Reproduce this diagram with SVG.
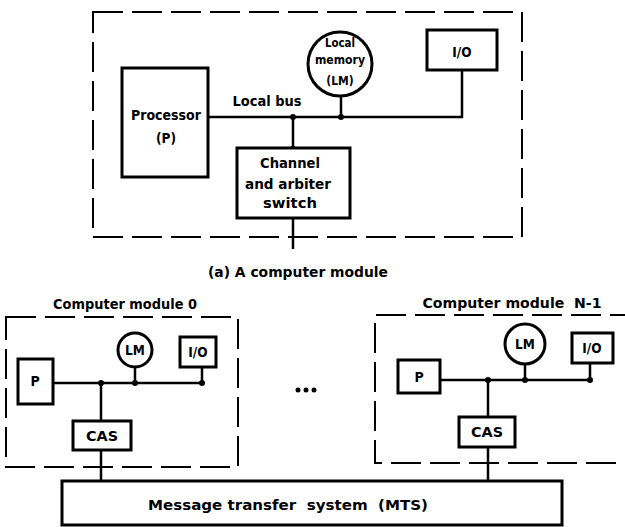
<svg xmlns="http://www.w3.org/2000/svg" width="625" height="527" viewBox="0 0 625 527">
<style>
.bg{fill:#fff}
.dash{fill:none;stroke:#000;stroke-width:2;stroke-dasharray:30 9}
.box{fill:#fff;stroke:#000;stroke-width:3}
.ln{fill:none;stroke:#000;stroke-width:2.5}
.dot{fill:#000}
text{font-family:"Liberation Sans Narrow","DejaVu Sans Condensed","Liberation Sans",sans-serif;font-weight:bold;fill:#000;text-anchor:middle}
.t13{font-size:14px}
.t12{font-size:13.5px}
.t11{font-size:12px}
.t14{font-size:14.5px}
</style>
<rect class="bg" x="0" y="0" width="625" height="527"/>

<g id="module-a">
<rect class="dash" x="93" y="12" width="429" height="225"/>
</g>
<g id="connectors">
<path class="ln" d="M208 117 H462 V70"/>
<path class="ln" d="M341 97 V117"/>
<path class="ln" d="M293 117 V148"/>
<path class="ln" d="M293 218 V249"/>
<circle class="dot" cx="293" cy="117" r="3"/>
<circle class="dot" cx="341" cy="117" r="3"/>
<circle class="dot" cx="293" cy="148" r="2.5"/>
<path class="ln" d="M53 383 H202 V367"/>
<path class="ln" d="M135 367 V383"/>
<path class="ln" d="M101 383 V421"/>
<path class="ln" d="M101 450 V482"/>
<circle class="dot" cx="101" cy="383" r="3"/>
<circle class="dot" cx="135" cy="383" r="3"/>
<circle class="dot" cx="202" cy="383" r="3"/>
<path class="ln" d="M440 380 H590 V363"/>
<path class="ln" d="M525 364 V380"/>
<path class="ln" d="M488 380 V417"/>
<path class="ln" d="M488 447 V481"/>
<circle class="dot" cx="488" cy="380" r="3"/>
<circle class="dot" cx="525" cy="380" r="3"/>
<circle class="dot" cx="590" cy="380" r="3"/>
</g>

<g id="processor">
<rect class="box" x="122" y="68" width="86" height="109"/>
<text class="t12" x="166" y="120" textLength="70" lengthAdjust="spacingAndGlyphs">Processor</text>
<text class="t12" x="166" y="143">(P)</text>
</g>
<g id="local-memory">
<circle class="box" cx="340" cy="64" r="32"/>
<text class="t11" x="340" y="47" textLength="30" lengthAdjust="spacingAndGlyphs">Local</text>
<text class="t11" x="340" y="64" textLength="50" lengthAdjust="spacingAndGlyphs">memory</text>
<text class="t11" x="340" y="85">(LM)</text>
</g>
<g id="io">
<rect class="box" x="427" y="30" width="70" height="40"/>
<text class="t12" x="462" y="57">I/O</text>
</g>
<g id="local-bus-label">
<text class="t13" x="267" y="106" textLength="69" lengthAdjust="spacingAndGlyphs">Local bus</text>
</g>
<g id="channel">
<rect class="box" x="237" y="148" width="113" height="70"/>
<text class="t12" x="290" y="168" textLength="60" lengthAdjust="spacingAndGlyphs">Channel</text>
<text class="t12" x="288" y="189" textLength="86" lengthAdjust="spacingAndGlyphs">and arbiter</text>
<text class="t12" x="290" y="208" textLength="54" lengthAdjust="spacingAndGlyphs">switch</text>
</g>
<g id="caption">
<text class="t12" x="298" y="277" textLength="180" lengthAdjust="spacingAndGlyphs">(a) A computer module</text>
</g>

<g id="module-0">
<text class="t14" x="125" y="309" textLength="144" lengthAdjust="spacingAndGlyphs">Computer module 0</text>
<rect class="dash" x="6" y="317" width="232" height="150"/>
</g>
<g id="p0">
<rect class="box" x="18" y="359" width="35" height="45"/>
<text class="t13" x="35" y="386">P</text>
</g>
<g id="lm0">
<circle class="box" cx="135" cy="350" r="17"/>
<text class="t12" x="135" y="355">LM</text>
</g>
<g id="io0">
<rect class="box" x="180" y="337" width="36" height="30"/>
<text class="t12" x="198" y="357">I/O</text>
</g>
<g id="cas0">
<rect class="box" x="73" y="421" width="58" height="29"/>
<text class="t13" x="102" y="441" textLength="32" lengthAdjust="spacingAndGlyphs">CAS</text>
</g>

<g id="ellipsis">
<circle class="dot" cx="298" cy="390" r="2.5"/>
<circle class="dot" cx="306" cy="390" r="2.5"/>
<circle class="dot" cx="314" cy="390" r="2.5"/>
</g>

<g id="module-n1">
<text class="t14" x="512" y="308" textLength="179" lengthAdjust="spacingAndGlyphs" xml:space="preserve">Computer module  N-1</text>
<path class="dash" d="M640 315 H375 V463 H640"/>
</g>
<g id="p1">
<rect class="box" x="398" y="360" width="42" height="33"/>
<text class="t13" x="419" y="382">P</text>
</g>
<g id="lm1">
<circle class="box" cx="525" cy="344" r="20"/>
<text class="t12" x="525" y="349">LM</text>
</g>
<g id="io1">
<rect class="box" x="572" y="333" width="41" height="30"/>
<text class="t12" x="592" y="353">I/O</text>
</g>
<g id="cas1">
<rect class="box" x="459" y="417" width="56" height="30"/>
<text class="t13" x="487" y="437" textLength="32" lengthAdjust="spacingAndGlyphs">CAS</text>
</g>

<g id="mts">
<rect class="box" x="62" y="481" width="500" height="44"/>
<text class="t13" x="288" y="510" textLength="280" lengthAdjust="spacingAndGlyphs" xml:space="preserve">Message transfer  system  (MTS)</text>
</g>
</svg>
